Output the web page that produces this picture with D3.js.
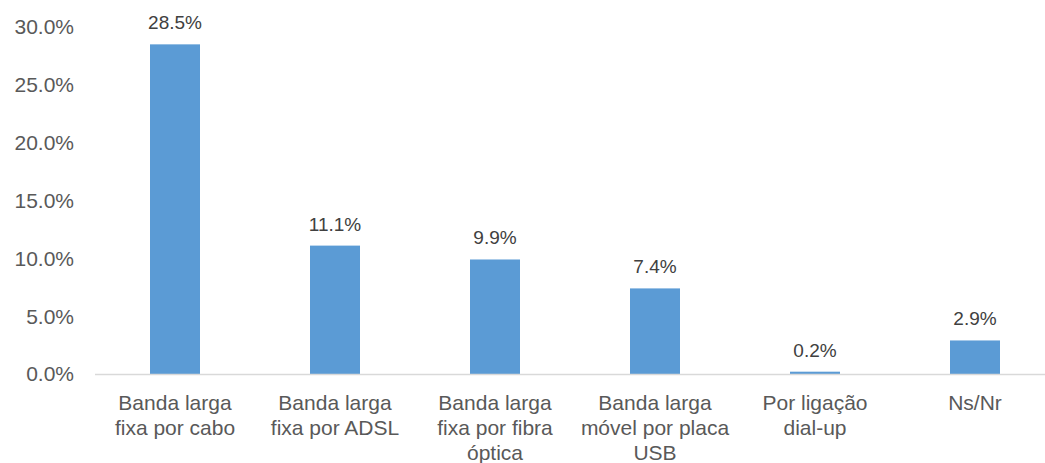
<!DOCTYPE html>
<html>
<head>
<meta charset="utf-8">
<script src="https://cdn.jsdelivr.net/npm/d3@7"></script>
<style>
  body { margin: 0; background: #fff; }
  svg { display: block; font-family: "Liberation Sans", Arial, sans-serif; }
</style>
</head>
<body>
<div id="chart"></div>
<script>
const categories = [
    ["Banda larga", "fixa por cabo"],
    ["Banda larga", "fixa por ADSL"],
    ["Banda larga", "fixa por fibra", "óptica"],
    ["Banda larga", "móvel por placa", "USB"],
    ["Por ligação", "dial-up"],
    ["Ns/Nr"]
];
const values = [28.5, 11.1, 9.9, 7.4, 0.2, 2.9];
const yTicks = [0, 5, 10, 15, 20, 25, 30];

const width = 1045, height = 463;
const margin = { top: 27, right: -10, bottom: 89, left: 95 };

let svg = d3.select("#chart")
    .append("svg")
    .attr("width", width)
    .attr("height", height);

let x = d3.scaleBand()
    .domain(d3.range(values.length))
    .range([margin.left, width - margin.right])
    .paddingInner(0.6875)
    .paddingOuter(0.34375);

let y = d3.scaleLinear()
    .domain([0, 30])
    .range([height - margin.bottom, margin.top]);

// y axis labels only (no line, no ticks)
svg.append("g")
    .selectAll("text")
    .data(yTicks)
    .enter()
    .append("text")
    .attr("x", 74)
    .attr("y", d => y(d))
    .attr("dy", "0.35em")
    .attr("text-anchor", "end")
    .attr("font-size", 21)
    .attr("fill", "#595959")
    .text(d => d.toFixed(1) + "%");

// bars
svg.append("g")
    .selectAll("rect")
    .data(values)
    .enter()
    .append("rect")
    .attr("x", (d, i) => x(i))
    .attr("y", d => y(d))
    .attr("width", x.bandwidth())
    .attr("height", d => y(0) - y(d))
    .attr("fill", "#5b9bd5");

// baseline
svg.append("line")
    .attr("x1", margin.left)
    .attr("x2", width)
    .attr("y1", y(0) + 0.5)
    .attr("y2", y(0) + 0.5)
    .attr("stroke", "#d9d9d9")
    .attr("stroke-width", 1.5);

// data labels
svg.append("g")
    .selectAll("text")
    .data(values)
    .enter()
    .append("text")
    .attr("x", (d, i) => x(i) + x.bandwidth() / 2)
    .attr("y", d => y(d) - 15)
    .attr("text-anchor", "middle")
    .attr("font-size", 19)
    .attr("fill", "#404040")
    .text(d => d.toFixed(1) + "%");

// category labels
let cat = svg.append("g")
    .selectAll("text")
    .data(categories)
    .enter()
    .append("text")
    .attr("x", (d, i) => x(i) + x.bandwidth() / 2)
    .attr("y", 410)
    .attr("text-anchor", "middle")
    .attr("font-size", 21)
    .attr("fill", "#595959");

cat.selectAll("tspan")
    .data(d => d)
    .enter()
    .append("tspan")
    .attr("x", function () { return this.parentNode.getAttribute("x"); })
    .attr("dy", (d, i) => i === 0 ? 0 : 25)
    .text(d => d);
</script>
</body>
</html>
